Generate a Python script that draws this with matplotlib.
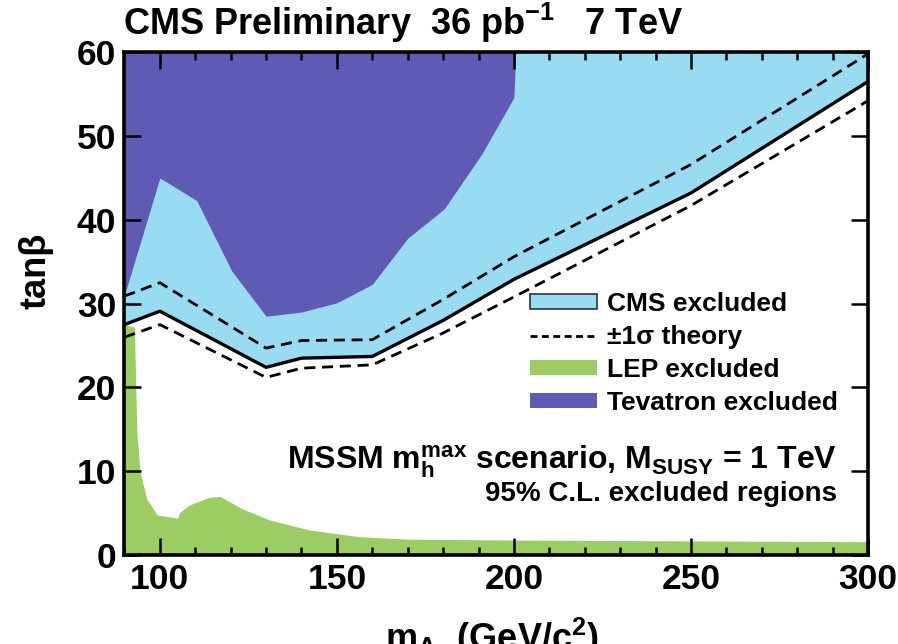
import matplotlib
matplotlib.use("Agg")
import matplotlib.pyplot as plt
from matplotlib import font_manager
from matplotlib.lines import Line2D
from matplotlib.patches import Patch
import numpy as np

# exclusion contours in the (m_A, tan beta) plane
cms_mass = [90, 100, 130, 140, 160, 180, 200, 250, 300]
cms_limit = [27.5, 29.1, 22.4, 23.5, 23.7, 28.0, 32.9, 43.2, 56.5]
theory_up = [30.9, 32.5, 24.7, 25.6, 25.7, 30.5, 35.6, 46.6, 59.8]
theory_down = [26.0, 27.5, 21.2, 22.3, 22.7, 26.5, 30.8, 41.7, 54.2]

tevatron_mass = [90, 100, 110.4, 120.3, 130, 140, 150, 160, 170, 180.3, 191, 200, 200.5]
tevatron_limit = [31.0, 45.0, 42.3, 33.9, 28.5, 29.0, 30.1, 32.3, 37.8, 41.3, 47.9, 54.6, 60.0]

lep_mass = [90, 92.8, 93.5, 94.4, 96.3, 99.2, 105, 105.6, 108.4, 114, 117, 123.4,
            131, 142.3, 156.3, 170.4, 200, 250, 300]
lep_limit = [27.5, 27.2, 14.7, 9.9, 6.7, 4.8, 4.4, 5.1, 6.0, 6.9, 7.0, 5.5,
             4.2, 3.0, 2.2, 1.9, 1.8, 1.7, 1.6]

x_ticks = [100, 150, 200, 250, 300]
y_ticks = [0, 10, 20, 30, 40, 50, 60]

cms_color = "#99dcf1"
lep_color = "#9ccc64"
tev_color = "#5f5ab3"


def pick_font(names):
    for name in names:
        try:
            font_manager.findfont(font_manager.FontProperties(family=name), fallback_to_default=False)
            return name
        except ValueError:
            continue
    return "DejaVu Sans"


main_font = pick_font(["Liberation Sans", "Arial", "DejaVu Sans"])

plt.rcParams["font.family"] = main_font
plt.rcParams["font.weight"] = "bold"
plt.rcParams["mathtext.fontset"] = "custom"
plt.rcParams["mathtext.rm"] = main_font + ":bold"
plt.rcParams["mathtext.it"] = main_font + ":bold"
plt.rcParams["mathtext.bf"] = main_font + ":bold"
plt.rcParams["mathtext.default"] = "rm"

fig = plt.figure(figsize=(8.98, 6.44), dpi=100)
ax = fig.add_axes([0.1386, 0.138, 0.828, 0.781])

top = 60
ax.fill_between(cms_mass, cms_limit, top, color=cms_color, linewidth=0)
ax.fill_between(tevatron_mass, tevatron_limit, top, color=tev_color, linewidth=0)
ax.fill_between(lep_mass, 0, lep_limit, color=lep_color, linewidth=0)

ax.plot(cms_mass, cms_limit, color="black", linewidth=2.4)
ax.plot(cms_mass, theory_up, color="black", linewidth=2.0, dashes=(4.0, 2.4))
ax.plot(cms_mass, theory_down, color="black", linewidth=2.0, dashes=(4.0, 2.4))

ax.set_xlim(90, 300)
ax.set_ylim(0, 60)
ax.set_xticks(x_ticks)
ax.set_xticks(np.arange(90, 301, 10), minor=True)
ax.set_yticks(y_ticks)
ax.tick_params(which="both", direction="in", top=True, right=True, width=1.8, colors="black")
ax.tick_params(which="major", length=12, pad=6)
ax.tick_params(which="minor", length=6)
for spine in ax.spines.values():
    spine.set_linewidth(2.6)
for label in ax.get_xticklabels() + ax.get_yticklabels():
    label.set_fontsize(25.5)
    label.set_fontweight("bold")

fig.text(0.137, 0.946, "CMS Preliminary  36 pb$^{-1}$   7 TeV", fontsize=26,
         ha="left", va="baseline")
fig.text(0.040, 0.58, "tanβ", rotation=90, fontsize=26, ha="center", va="center")
fig.text(0.548, 0.044, "m$_A$  (GeV/c$^2$)", fontsize=26, ha="center", va="top")

ax.text(0.958, 0.186, "MSSM m$_h^{max}$ scenario, M$_{SUSY}$ = 1 TeV", transform=ax.transAxes,
        fontsize=23, ha="right", va="center")
ax.text(0.958, 0.122, "95% C.L. excluded regions", transform=ax.transAxes,
        fontsize=20, ha="right", va="center")

handles = [
    Patch(facecolor=cms_color, edgecolor="#333333", linewidth=1.2),
    Line2D([], [], color="black", linewidth=2.0, dashes=(2.5, 1.6)),
    Patch(facecolor=lep_color, edgecolor="none"),
    Patch(facecolor=tev_color, edgecolor="none"),
]
labels = ["CMS excluded", "±1σ theory", "LEP excluded", "Tevatron excluded"]
ax.legend(handles, labels, loc="upper left", bbox_to_anchor=(0.545, 0.523), frameon=False,
          fontsize=19, handlelength=2.55, handleheight=0.5, handletextpad=0.38,
          labelspacing=0.34, borderaxespad=0, borderpad=0)

fig.savefig("out.png", dpi=100)
